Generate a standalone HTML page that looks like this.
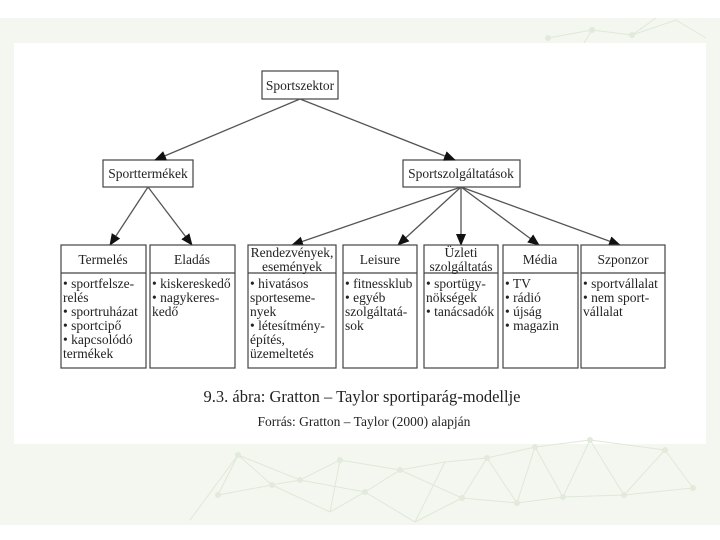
<!DOCTYPE html>
<html><head><meta charset="utf-8"><style>
html,body{margin:0;padding:0;background:#fff;}
svg{display:block;}
text{font-family:"Liberation Serif",serif;fill:#222;}
</style></head><body>
<svg width="720" height="540" viewBox="0 0 720 540" xmlns="http://www.w3.org/2000/svg">
<defs><marker id="a" markerWidth="12" markerHeight="10" refX="11" refY="5" orient="auto" markerUnits="userSpaceOnUse"><path d="M0,0 L12,5 L0,10 z" fill="#111"/></marker></defs>
<rect x="0" y="18" width="720" height="507" fill="#f4f7ef"/>
<rect x="14" y="43" width="692" height="401" fill="#fff"/>
<g stroke="#dfe8d8" stroke-width="1" fill="none">
<path d="M548 38 L592 30 L632 35 L676 20 L706 38 M592 30 L584 43 M632 35 L656 18"/>
<path d="M190 520 L238 455 L300 480 L340 460 L400 470 L445 462 L487 458 L535 447 L590 440 L665 450 M218 495 L272 485 L330 512 L365 492 L415 522 L462 498 L517 503 L563 497 L624 495 L693 488 M238 455 L272 485 L300 480 L365 492 L400 470 L462 498 L487 458 L517 503 L535 447 L563 497 L590 440 L624 495 L665 450 L693 488 M218 495 L238 455 M330 512 L340 460 M415 522 L445 462"/>
</g>
<g fill="#e2eadb"><circle cx="238" cy="455" r="3"/><circle cx="300" cy="480" r="3"/><circle cx="340" cy="460" r="3"/><circle cx="400" cy="470" r="3"/><circle cx="487" cy="458" r="3"/><circle cx="535" cy="447" r="3"/><circle cx="590" cy="440" r="3"/><circle cx="665" cy="450" r="3"/><circle cx="218" cy="495" r="3"/><circle cx="272" cy="485" r="3"/><circle cx="365" cy="492" r="3"/><circle cx="462" cy="498" r="3"/><circle cx="517" cy="503" r="3"/><circle cx="563" cy="497" r="3"/><circle cx="624" cy="495" r="3"/><circle cx="693" cy="488" r="3"/><circle cx="592" cy="30" r="3"/><circle cx="632" cy="35" r="3"/><circle cx="548" cy="38" r="3"/></g>

<g stroke="#444" stroke-width="1.2" fill="#fff">
<rect x="262" y="71" width="76" height="28"/>
<rect x="103" y="160" width="90" height="27"/>
<rect x="403" y="160" width="117" height="27"/>
</g>
<g stroke="#555" stroke-width="1.3" fill="none" marker-end="url(#a)">
<line x1="300" y1="99" x2="155" y2="160"/>
<line x1="300" y1="99" x2="455" y2="160"/>
<line x1="148" y1="187" x2="110" y2="245"/>
<line x1="148" y1="187" x2="192" y2="245"/>
<line x1="461" y1="187" x2="292" y2="245"/>
<line x1="461" y1="187" x2="398" y2="245"/>
<line x1="461" y1="187" x2="461" y2="245"/>
<line x1="461" y1="187" x2="539" y2="245"/>
<line x1="461" y1="187" x2="620" y2="245"/>
</g>
<g font-size="13.5" text-anchor="middle">
<text x="300" y="90">Sportszektor</text>
<text x="148" y="178">Sporttermékek</text>
<text x="461" y="178">Sportszolgáltatások</text>
</g>
<g stroke="#444" stroke-width="1.2" fill="#fff">
<rect x="61" y="245" width="85" height="123"/><line x1="61" y1="273" x2="146" y2="273"/>
<rect x="150" y="245" width="85" height="123"/><line x1="150" y1="273" x2="235" y2="273"/>
<rect x="248" y="245" width="88" height="123"/><line x1="248" y1="273" x2="336" y2="273"/>
<rect x="343" y="245" width="74" height="123"/><line x1="343" y1="273" x2="417" y2="273"/>
<rect x="424" y="245" width="74" height="123"/><line x1="424" y1="273" x2="498" y2="273"/>
<rect x="503" y="245" width="75" height="123"/><line x1="503" y1="273" x2="578" y2="273"/>
<rect x="581" y="245" width="84" height="123"/><line x1="581" y1="273" x2="665" y2="273"/>
</g>
<g font-size="13.5" text-anchor="middle">
<text x="103" y="264">Termelés</text>
<text x="192" y="264">Eladás</text>
<text x="292" y="257">Rendezvények,</text><text x="292" y="271">események</text>
<text x="380" y="264">Leisure</text>
<text x="461" y="257">Üzleti</text><text x="461" y="271">szolgáltatás</text>
<text x="540" y="264">Média</text>
<text x="623" y="264">Szponzor</text>
</g>
<g font-size="13.5">
<text x="63" y="288">• sportfelsze-</text><text x="63" y="302">relés</text><text x="63" y="316">• sportruházat</text><text x="63" y="330">• sportcipő</text><text x="63" y="344">• kapcsolódó</text><text x="63" y="358">termékek</text>
<text x="152" y="288">• kiskereskedő</text><text x="152" y="302">• nagykeres-</text><text x="152" y="316">kedő</text>
<text x="250" y="288">• hivatásos</text><text x="250" y="302">sporteseme-</text><text x="250" y="316">nyek</text><text x="250" y="330">• létesítmény-</text><text x="250" y="344">építés,</text><text x="250" y="358">üzemeltetés</text>
<text x="345" y="288">• fitnessklub</text><text x="345" y="302">• egyéb</text><text x="345" y="316">szolgáltatá-</text><text x="345" y="330">sok</text>
<text x="426" y="288">• sportügy-</text><text x="426" y="302">nökségek</text><text x="426" y="316">• tanácsadók</text>
<text x="505" y="288">• TV</text><text x="505" y="302">• rádió</text><text x="505" y="316">• újság</text><text x="505" y="330">• magazin</text>
<text x="583" y="288">• sportvállalat</text><text x="583" y="302">• nem sport-</text><text x="583" y="316">vállalat</text>
</g>
<text x="362" y="402" font-size="16.5" text-anchor="middle">9.3. ábra: Gratton – Taylor sportiparág-modellje</text>
<text x="364" y="426" font-size="13.5" text-anchor="middle">Forrás: Gratton – Taylor (2000) alapján</text>
</svg>
</body></html>
